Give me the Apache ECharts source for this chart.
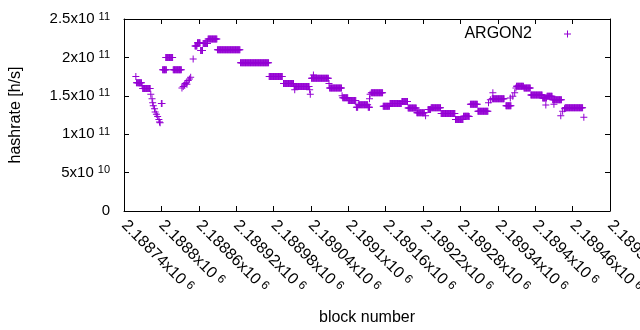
<!DOCTYPE html>
<html>
<head>
<meta charset="utf-8">
<script src="https://cdn.jsdelivr.net/npm/echarts@6/dist/echarts.min.js"></script>
<style>
html,body{margin:0;padding:0;background:#fff;}
#c{width:640px;height:330px;}
</style>
</head>
<body>
<div id="c"></div>
<script>
// Run-length encoded series: each run is a block range with a constant hashrate (x1e11 h/s)
const UNIT = 1e11;
const runStart = [2188759,2188760,2188769,2188770,2188783,2188785,2188786,2188787,2188789,2188790,
  2188792,2188794,2188796,2188797,2188798,2188800,2188802,2188807,2188819,2188833,
  2188835,2188837,2188838,2188840,2188841,2188843,2188845,2188847,2188851,2188854,
  2188858,2188863,2188867,2188875,2188890,2188927,2188973,2188996,2189013,2189014,
  2189038,2189039,2189041,2189044,2189069,2189070,2189090,2189091,2189100,2189113,
  2189116,2189132,2189134,2189135,2189137,2189156,2189167,2189186,2189196,2189210,
  2189224,2189228,2189233,2189249,2189272,2189285,2189294,2189296,2189308,2189325,
  2189328,2189331,2189332,2189353,2189360,2189364,2189367,2189369,2189370,2189382,
  2189393,2189412,2189419,2189417,2189428,2189430,2189441,2189444,2189447,2189448,
  2189478];
const runEnd = [2188759,2188768,2188769,2188782,2188783,2188785,2188786,2188787,2188789,2188790,
  2188792,2188794,2188796,2188797,2188798,2188801,2188808,2188818,2188832,2188833,
  2188835,2188837,2188838,2188840,2188841,2188843,2188845,2188847,2188851,2188857,
  2188862,2188866,2188874,2188889,2188926,2188972,2188994,2189012,2189037,2189014,
  2189038,2189039,2189068,2189044,2189069,2189089,2189090,2189099,2189112,2189115,
  2189131,2189134,2189134,2189135,2189155,2189166,2189185,2189195,2189209,2189222,
  2189224,2189232,2189248,2189271,2189284,2189293,2189294,2189307,2189324,2189325,
  2189328,2189350,2189332,2189361,2189360,2189364,2189367,2189369,2189381,2189392,
  2189411,2189418,2189427,2189417,2189442,2189430,2189441,2189444,2189447,2189476,
  2189478];
const runValue = [1.75,1.67,1.63,1.595,1.52,1.46,1.41,1.37,1.33,1.29,
  1.26,1.23,1.19,1.16,1.15,1.40,1.84,2.00,1.84,1.60,
  1.62,1.64,1.66,1.67,1.65,1.70,1.72,1.74,1.98,2.15,
  2.19,2.09,2.18,2.24,2.10,1.93,1.75,1.66,1.62,1.58,
  1.58,1.52,1.73,1.77,1.66,1.60,1.50,1.475,1.44,1.35,
  1.385,1.35,1.46,1.52,1.54,1.365,1.40,1.425,1.34,1.28,
  1.24,1.32,1.345,1.27,1.19,1.235,1.23,1.39,1.30,1.41,
  1.45,1.46,1.54,1.37,1.47,1.495,1.54,1.60,1.625,1.60,
  1.51,1.47,1.495,1.38,1.45,1.39,1.24,1.30,1.33,1.345,
  1.22];
const seriesName = 'ARGON2';
const xMin = 2188740, xMax = 2189520, xStep = 60;
const yMin = 0, yMax = 2.5e11, yStep = 5e10;

const points = [];
for (let i = 0; i < runStart.length; i++) {
  for (let b = runStart[i]; b <= runEnd[i]; b++) points.push([b, runValue[i] * UNIT]);
}

const PLUS = 'path://M0,3H3V0H4V3H7V4H4V7H3V4H0Z';
const COLOR = '#9400D3';
const FONT = 'Liberation Sans, Arial, sans-serif';

function sci(v) {
  if (v === 0) return '{b|0}';
  const e = Math.floor(Math.log10(v) + 1e-9);
  let m = (v / Math.pow(10, e)).toPrecision(6).replace(/\.?0+$/, '');
  return '{b|' + m + 'x10}{s|' + e + '}';
}
const richY = {
  b: {fontSize: 15, fontFamily: FONT, color: '#000', lineHeight: 16, verticalAlign: 'middle'},
  s: {fontSize: 11, fontFamily: FONT, color: '#000', lineHeight: 9, verticalAlign: 'top', padding: [0, 0, 0, 4]}
};
const richX = {
  b: {fontSize: 16, fontFamily: FONT, color: '#000', lineHeight: 17, verticalAlign: 'middle'},
  s: {fontSize: 12, fontFamily: FONT, color: '#000', lineHeight: 10, verticalAlign: 'top', padding: [0, 0, 0, 4]}
};

const chart = echarts.init(document.getElementById('c'), null, {renderer: 'canvas'});
const axisCommon = {
  type: 'value',
  axisLine: {show: true, onZero: false, lineStyle: {color: '#000', width: 1}},
  axisTick: {show: true, inside: true, length: 5, lineStyle: {color: '#000'}},
  splitLine: {show: false}
};
chart.setOption({
  animation: false,
  backgroundColor: '#fff',
  textStyle: {fontFamily: FONT},
  grid: {left: 124, right: 30, top: 19, bottom: 119, containLabel: false, outerBoundsMode: 'none'},
  legend: {
    data: [{name: seriesName, icon: PLUS}],
    right: 64, top: 21, align: 'right',
    itemWidth: 7, itemHeight: 7,
    textStyle: {fontSize: 16, fontFamily: FONT, color: '#000', padding: [0, 27, 0, 0]}
  },
  xAxis: [
    Object.assign({}, axisCommon, {
      min: xMin, max: xMax, interval: xStep, position: 'bottom',
      name: 'block number', nameLocation: 'middle', nameGap: 99,
      nameTextStyle: {fontSize: 16, fontFamily: FONT, color: '#000'},
      axisLabel: {rotate: -45, margin: 12, showMaxLabel: true, showMinLabel: true,
        hideOverlap: false, formatter: v => sci(v), rich: richX}
    }),
    Object.assign({}, axisCommon, {
      min: xMin, max: xMax, interval: xStep, position: 'top',
      axisLabel: {show: false}
    })
  ],
  yAxis: [
    Object.assign({}, axisCommon, {
      min: yMin, max: yMax, interval: yStep, position: 'left',
      name: 'hashrate [h/s]', nameLocation: 'middle', nameGap: 100,
      nameTextStyle: {fontSize: 16, fontFamily: FONT, color: '#000'},
      axisLabel: {margin: 14, formatter: v => sci(v), rich: richY}
    }),
    Object.assign({}, axisCommon, {
      min: yMin, max: yMax, interval: yStep, position: 'right',
      axisLabel: {show: false}
    })
  ],
  series: [{
    name: seriesName,
    type: 'scatter',
    xAxisIndex: 0, yAxisIndex: 0,
    symbol: PLUS, symbolSize: 7,
    itemStyle: {color: COLOR, opacity: 1},
    emphasis: {disabled: true},
    data: points
  }]
});
</script>
</body>
</html>
